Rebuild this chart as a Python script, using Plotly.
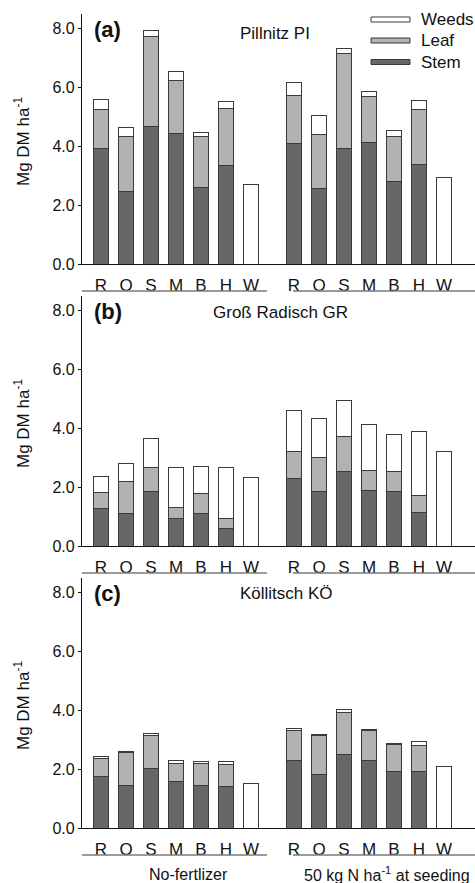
import plotly.graph_objects as go

categories = ["R", "O", "S", "M", "B", "H", "W"]
groups = ["No-fertlizer", "50 kg N ha<sup>-1</sup> at seeding"]
sites = ["Pillnitz PI", "Groß Radisch GR", "Köllitsch KÖ"]
panel_labels = ["(a)", "(b)", "(c)"]
y_ticks = [0, 2, 4, 6, 8]

# values per site: 7 no-fertilizer bars followed by 7 fertilized bars (Mg DM/ha)
stem_pi = [3.94, 2.45, 4.69, 4.45, 2.61, 3.36, None, 4.10, 2.58, 3.94, 4.14, 2.80, 3.38, None]
leaf_pi = [1.33, 1.90, 3.03, 1.80, 1.71, 1.93, None, 1.64, 1.84, 3.23, 1.55, 1.55, 1.86, None]
weeds_pi = [0.31, 0.29, 0.23, 0.28, 0.14, 0.25, 2.71, 0.43, 0.64, 0.16, 0.17, 0.20, 0.32, 2.94]

stem_gr = [1.28, 1.11, 1.85, 0.95, 1.11, 0.60, None, 2.28, 1.85, 2.53, 1.90, 1.84, 1.15, None]
leaf_gr = [0.54, 1.09, 0.81, 0.37, 0.68, 0.34, None, 0.94, 1.17, 1.19, 0.68, 0.69, 0.58, None]
weeds_gr = [0.56, 0.59, 1.01, 1.34, 0.93, 1.73, 2.33, 1.40, 1.33, 1.22, 1.55, 1.25, 2.17, 3.20]

stem_ko = [1.75, 1.43, 2.01, 1.57, 1.45, 1.42, None, 2.29, 1.82, 2.50, 2.29, 1.92, 1.92, None]
leaf_ko = [0.61, 1.14, 1.12, 0.63, 0.74, 0.74, None, 1.04, 1.34, 1.42, 1.02, 0.93, 0.88, None]
weeds_ko = [0.06, 0.03, 0.09, 0.09, 0.06, 0.09, 1.53, 0.05, 0.03, 0.12, 0.04, 0.03, 0.15, 2.09]

data = [(stem_pi, leaf_pi, weeds_pi), (stem_gr, leaf_gr, weeds_gr), (stem_ko, leaf_ko, weeds_ko)]

# layout helpers
W, H = 475, 883
ML, MR, MT, MB = 82, 0, 14, 55
PW, PH = W - ML - MR, H - MT - MB
GROUP2_START = 7.72
x_pos = [i for i in range(7)] + [GROUP2_START + i for i in range(7)]
x_range = [-0.76, 14.96]

def py(px_y):
    return (H - MB - px_y) / PH

def px(px_x):
    return (px_x - ML) / PW

panel_px = [(14, 264), (296, 546), (578, 828)]

colors = {"Stem": "#676767", "Leaf": "#b2b2b2", "Weeds": "#ffffff"}
outline = "#3a3a3a"
FONT = "Arial, Liberation Sans, sans-serif"

fig = go.Figure()
layout = dict(
    width=W, height=H, margin=dict(l=ML, r=MR, t=MT, b=MB),
    plot_bgcolor="white", paper_bgcolor="white", barmode="stack",
    showlegend=False, font=dict(family=FONT, color="#111"),
)
annotations = []
shapes = []

for k, (stem, leaf, weeds) in enumerate(data):
    xa = "x" if k == 0 else f"x{k+1}"
    ya = "y" if k == 0 else f"y{k+1}"
    for name, vals in (("Stem", stem), ("Leaf", leaf), ("Weeds", weeds)):
        fig.add_trace(go.Bar(
            x=x_pos, y=vals, name=name, xaxis=xa, yaxis=ya, width=0.6,
            marker=dict(color=colors[name], line=dict(color=outline, width=1)),
        ))
    top, bot = panel_px[k]
    xkey = "xaxis" if k == 0 else f"xaxis{k+1}"
    ykey = "yaxis" if k == 0 else f"yaxis{k+1}"
    layout[xkey] = dict(
        domain=[0, 1], anchor=ya, range=x_range, tickmode="array",
        tickvals=x_pos, ticktext=categories * 2, showline=True, linecolor="#111",
        linewidth=1.2, ticks="outside", ticklen=5, tickcolor="rgba(0,0,0,0)",
        tickfont=dict(size=17, color="#111"), showgrid=False, zeroline=False,
        fixedrange=True,
    )
    layout[ykey] = dict(
        domain=[py(bot), py(top)], anchor=xa, range=[0, 8.5], tickvals=y_ticks,
        tickformat=".1f", showline=True, linecolor="#111", linewidth=1.2,
        ticks="outside", ticklen=3, tickcolor="#111", tickfont=dict(size=16, color="#111"),
        showgrid=False, zeroline=False, fixedrange=True,
    )
    # panel label & site title
    annotations.append(dict(text="<b>" + panel_labels[k] + "</b>", xref="paper", yref="paper",
                            x=px(92), y=py(top + 15), xanchor="left", yanchor="middle",
                            showarrow=False, font=dict(size=22, color="#111")))
    site_y = [33, 312, 593][k]
    site_x = [275, 280, 286][k]
    annotations.append(dict(text=sites[k], xref="paper", yref="paper", x=px(site_x), y=py(site_y),
                            xanchor="center", yanchor="middle", showarrow=False,
                            font=dict(size=17, color="#111")))
    # y title
    annotations.append(dict(text="Mg DM ha<sup>-1</sup>", xref="paper", yref="paper",
                            x=px(22), y=py((top + bot) / 2 + 3), textangle=-90,
                            xanchor="center", yanchor="middle", showarrow=False,
                            font=dict(size=17, color="#111")))
    # group underlines
    line_y = py(bot + 27)
    for x0, x1 in ((x_range[0], 6.64), (7.68, x_range[1])):
        shapes.append(dict(type="line", xref=xa, yref="paper", x0=x0, x1=x1, y0=line_y, y1=line_y,
                           line=dict(color="#7a7a7a", width=1.5)))

# group labels
for gx, gtext in ((188, groups[0]), (387, groups[1])):
    annotations.append(dict(text=gtext, xref="paper", yref="paper", x=px(gx), y=py(874),
                            xanchor="center", yanchor="middle", showarrow=False,
                            font=dict(size=16, color="#111")))

# legend (custom)
for name, cy in (("Weeds", 19.5), ("Leaf", 40.5), ("Stem", 62)):
    shapes.append(dict(type="rect", xref="paper", yref="paper", x0=px(371), x1=px(410),
                       y0=py(cy + 2.5), y1=py(cy - 2.5), fillcolor=colors[name],
                       line=dict(color=outline, width=1)))
    annotations.append(dict(text=name, xref="paper", yref="paper", x=px(419), y=py(cy),
                            xanchor="left", yanchor="middle", showarrow=False,
                            font=dict(size=17, color="#111")))

layout["annotations"] = annotations
layout["shapes"] = shapes
fig.update_layout(**layout)
fig.write_html("out.html", config={"displayModeBar": False},
               post_script="document.body.style.margin='0';document.body.style.overflow='hidden';")
